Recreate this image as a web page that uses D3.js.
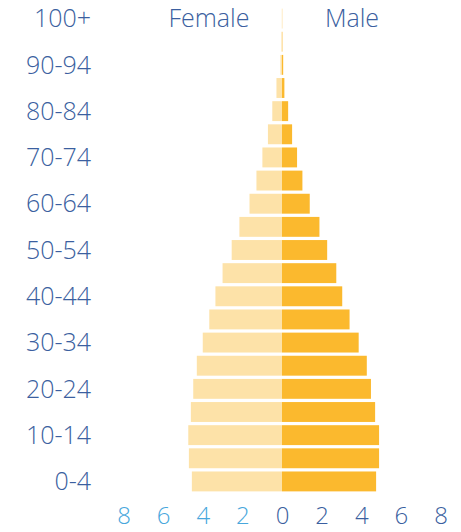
<!DOCTYPE html>
<html>
<head>
<meta charset="utf-8">
<script src="https://cdn.jsdelivr.net/npm/d3@7"></script>
<style>
  body { margin: 0; background: #fff; }
  svg text { font-family: "Open Sans", "Noto Sans", sans-serif; font-weight: 300; }
</style>
</head>
<body>
<svg id="chart" width="461" height="532"></svg>
<script>
// age groups, top to bottom
var ages = ["100+", "95-99", "90-94", "85-89", "80-84", "75-79", "70-74", "65-69",
    "60-64", "55-59", "50-54", "45-49", "40-44", "35-39", "30-34", "25-29",
    "20-24", "15-19", "10-14", "5-9", "0-4"]

// percent of population, same order as ages
var female = [0.01, 0.03, 0.08, 0.28, 0.49, 0.71, 0.99, 1.29,
    1.64, 2.15, 2.54, 3.0, 3.36, 3.67, 4.0, 4.3,
    4.48, 4.6, 4.73, 4.7, 4.55]
var male = [0.01, 0.02, 0.06, 0.12, 0.31, 0.51, 0.76, 1.03,
    1.40, 1.89, 2.28, 2.74, 3.04, 3.41, 3.87, 4.28,
    4.49, 4.7, 4.9, 4.9, 4.75]

var ticks = [-8, -6, -4, -2, 0, 2, 4, 6, 8]

var labelColor = "#3b5fa0"
var leftTickColor = "#48a7dc"
var femaleColor = "#fde2a8"
var maleColor = "#fbb92e"

var svg = d3.select("#chart")
var cx = 282

var x = d3.scaleLinear().domain([-8, 8]).range([cx - 158.5, cx + 158.5])
var y = d3.scaleBand().domain(ages).range([7, 493]).paddingInner(0.14).paddingOuter(0.07)

var rows = ages.map((a, i) => ({age: a, f: female[i], m: male[i]}))

svg.selectAll(".female").data(rows).enter().append("rect")
    .attr("class", "female")
    .attr("x", d => x(-d.f))
    .attr("y", d => y(d.age))
    .attr("width", d => x(0) - x(-d.f))
    .attr("height", y.bandwidth())
    .attr("fill", femaleColor)

svg.selectAll(".male").data(rows).enter().append("rect")
    .attr("class", "male")
    .attr("x", x(0))
    .attr("y", d => y(d.age))
    .attr("width", d => x(d.m) - x(0))
    .attr("height", y.bandwidth())
    .attr("fill", maleColor)

// every other age label
svg.selectAll(".age").data(ages.filter((a, i) => i % 2 == 0)).enter().append("text")
    .attr("class", "age")
    .attr("x", 91)
    .attr("y", d => y(d) + y.bandwidth() / 2 + 8.7)
    .attr("text-anchor", "end")
    .attr("font-size", 25)
    .attr("fill", labelColor)
    .text(d => d)

// x axis, absolute values
var xAxis = d3.axisBottom(x).tickValues(ticks).tickSize(0).tickFormat(d => Math.abs(d))
var ax = svg.append("g").attr("transform", "translate(0,504)").call(xAxis)
ax.select(".domain").remove()
ax.selectAll("text")
    .attr("font-size", 24)
    .attr("font-family", null)
    .attr("dy", "0.71em")
    .attr("fill", d => d < 0 ? leftTickColor : labelColor)

svg.append("text").attr("x", 209).attr("y", 27)
    .attr("text-anchor", "middle").attr("font-size", 25).attr("fill", labelColor)
    .text("Female")
svg.append("text").attr("x", 352).attr("y", 27)
    .attr("text-anchor", "middle").attr("font-size", 25).attr("fill", labelColor)
    .text("Male")
</script>
</body>
</html>
